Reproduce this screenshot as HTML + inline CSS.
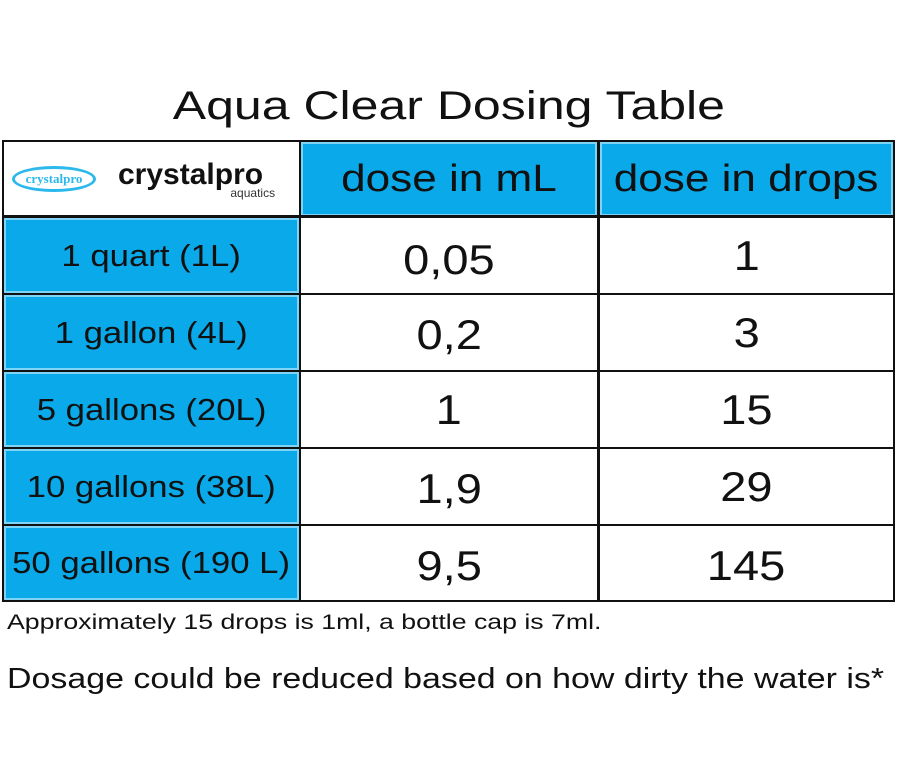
<!DOCTYPE html>
<html><head><style>
body{margin:0;width:897px;height:765px;background:#fff;font-family:"Liberation Sans",sans-serif;position:relative;overflow:hidden;color:#111}
.a{position:absolute}
.c{position:absolute;display:flex;align-items:center;justify-content:center;box-sizing:border-box}
.b{background:#0aa9e9;border:2px solid #7fd3f4}
.s{display:inline-block;transform:scaleX(1.12)}
.h{display:inline-block;transform:scaleX(1.16)}
</style></head><body>
<div class="a" style="left:0;width:897px;top:84px;text-align:center;font-size:40px;"><span style="display:inline-block;transform:scaleX(1.25)">Aqua Clear Dosing Table</span></div>
<div class="a" style="left:2px;top:140px;width:893px;height:462px;border:2px solid #111;box-sizing:border-box"></div>
<div class="c" style="left:4px;top:142px;width:295px;height:74px;justify-content:flex-start">
 <div style="margin-left:8px;width:84px;height:26px;border:3px solid #2bb8ec;border-radius:50%;box-sizing:border-box;color:#2bb8ec;font-family:'Liberation Serif',serif;font-weight:bold;font-size:13px;display:flex;align-items:center;justify-content:center">crystalpro</div>
 <div style="margin-left:22px;font-size:30px;font-weight:bold;position:relative;top:-4px">crystalpro<span style="position:absolute;right:-12px;top:28px;font-size:12px;font-weight:normal;color:#333">aquatics</span></div>
</div>
<div class="a" style="left:299px;top:142px;width:2px;height:460px;background:#111"></div>
<div class="a" style="left:597px;top:142px;width:3px;height:460px;background:#111"></div>
<div class="c b" style="left:301px;top:142px;width:296px;height:74px;font-size:38px"><span class="h">dose in mL</span></div>
<div class="c b" style="left:600px;top:142px;width:293px;height:74px;font-size:38px"><span class="h">dose in drops</span></div>
<div class="a" style="left:4px;top:215px;width:889px;height:3px;background:#111"></div>
<div class="a" style="left:4px;top:293px;width:889px;height:2px;background:#111"></div>
<div class="a" style="left:4px;top:370px;width:889px;height:2px;background:#111"></div>
<div class="a" style="left:4px;top:447px;width:889px;height:2px;background:#111"></div>
<div class="a" style="left:4px;top:524px;width:889px;height:2px;background:#111"></div>
<div class="c b" style="left:4px;top:218px;width:295px;height:75px;font-size:31px"><span class="s">1 quart (1L)</span></div>
<div class="c b" style="left:4px;top:295px;width:295px;height:75px;font-size:31px"><span class="s">1 gallon (4L)</span></div>
<div class="c b" style="left:4px;top:372px;width:295px;height:75px;font-size:31px"><span class="s">5 gallons (20L)</span></div>
<div class="c b" style="left:4px;top:449px;width:295px;height:75px;font-size:31px"><span class="s">10 gallons (38L)</span></div>
<div class="c b" style="left:4px;top:526px;width:295px;height:74px;font-size:31px"><span class="s">50 gallons (190 L)</span></div>
<div class="c" style="left:301px;top:222px;width:296px;height:75px;font-size:42px"><span class="s">0,05</span></div>
<div class="c" style="left:301px;top:297px;width:296px;height:75px;font-size:42px"><span class="s">0,2</span></div>
<div class="c" style="left:301px;top:372px;width:296px;height:75px;font-size:42px"><span class="s">1</span></div>
<div class="c" style="left:301px;top:451px;width:296px;height:75px;font-size:42px"><span class="s">1,9</span></div>
<div class="c" style="left:301px;top:528px;width:296px;height:75px;font-size:42px"><span class="s">9,5</span></div>
<div class="c" style="left:600px;top:218px;width:293px;height:75px;font-size:42px"><span class="s">1</span></div>
<div class="c" style="left:600px;top:295px;width:293px;height:75px;font-size:42px"><span class="s">3</span></div>
<div class="c" style="left:600px;top:372px;width:293px;height:75px;font-size:42px"><span class="s">15</span></div>
<div class="c" style="left:600px;top:449px;width:293px;height:75px;font-size:42px"><span class="s">29</span></div>
<div class="c" style="left:600px;top:528px;width:293px;height:75px;font-size:42px"><span class="s">145</span></div>
<div class="a" style="left:7px;top:611px;font-size:21px;transform-origin:0 0;transform:scaleX(1.27);white-space:nowrap">Approximately 15 drops is 1ml, a bottle cap is 7ml.</div>
<div class="a" style="left:7px;top:663px;font-size:29px;transform-origin:0 0;transform:scaleX(1.17);white-space:nowrap">Dosage could be reduced based on how dirty the water is*</div>
</body></html>
